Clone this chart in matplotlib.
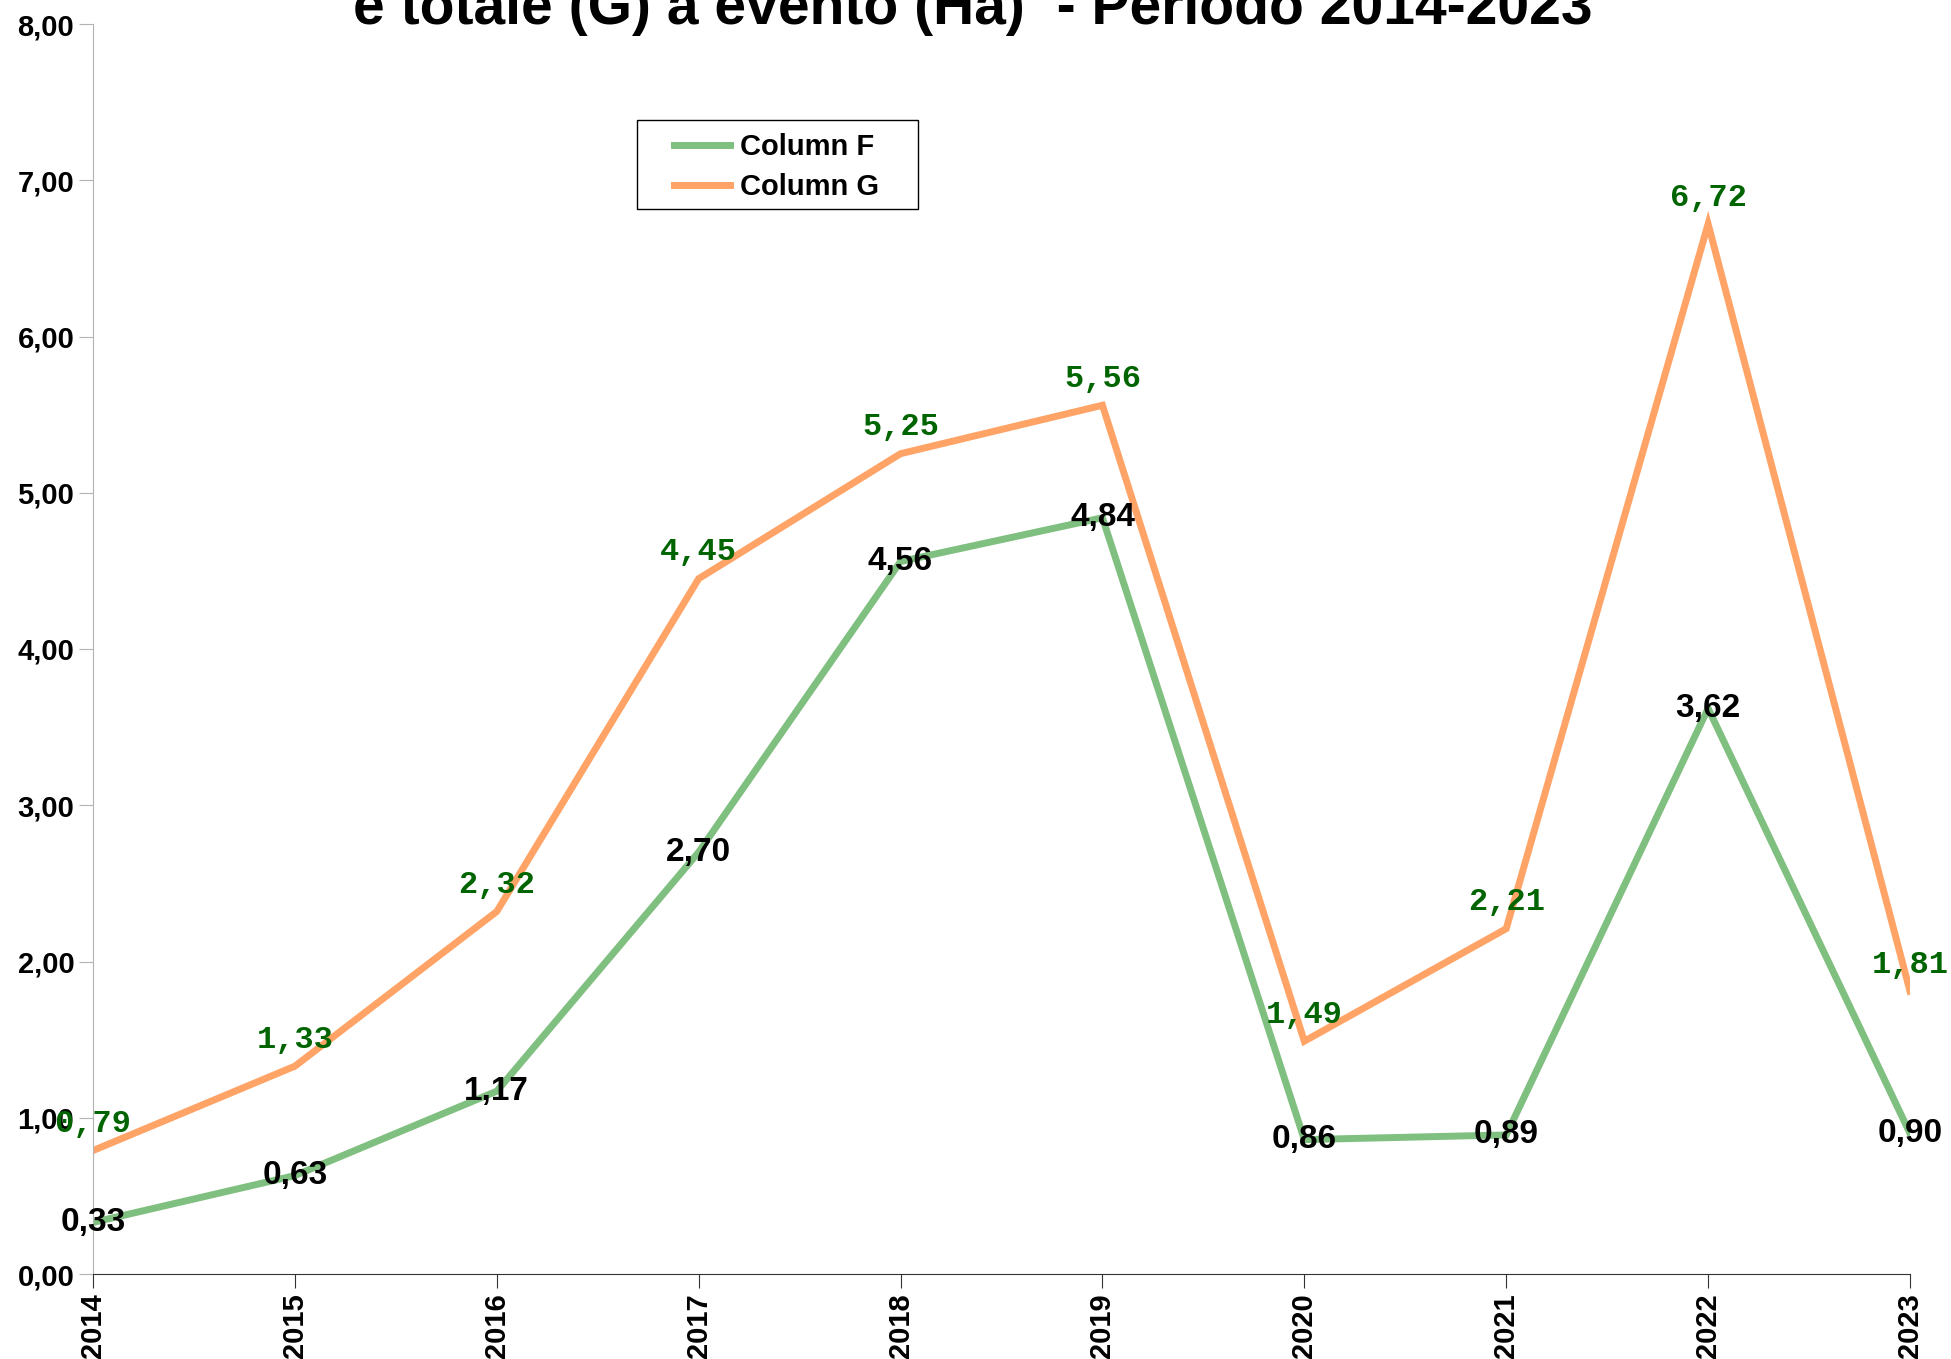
import numpy as np
import matplotlib.pyplot as plt
from matplotlib.patches import Rectangle

years = ['2014', '2015', '2016', '2017', '2018', '2019', '2020', '2021', '2022', '2023']
col_f = [0.33, 0.63, 1.17, 2.70, 4.56, 4.84, 0.86, 0.89, 3.62, 0.90]
col_g = [0.79, 1.33, 2.32, 4.45, 5.25, 5.56, 1.49, 2.21, 6.72, 1.81]
yticks = [0, 1, 2, 3, 4, 5, 6, 7, 8]

plt.rcParams['font.family'] = ['Liberation Sans', 'DejaVu Sans']

fig = plt.figure(figsize=(19.51, 13.59), dpi=100)
ax = fig.add_axes([93/1951, 1-1274/1359, (1910-93)/1951, (1274-24)/1359])

x = np.arange(len(years))
ax.plot(x, col_f, color='#7fbf7f', lw=5, label='Column F', solid_joinstyle='miter')
ax.plot(x, col_g, color='#ffa366', lw=5, label='Column G', solid_joinstyle='miter')

# data labels
for xi, v in zip(x, col_f):
    ax.text(xi, v, ('%.2f' % v).replace('.', ','), ha='center', va='center',
            fontsize=24, fontweight='bold', color='black')
for xi, v in zip(x, col_g):
    ax.annotate(('%.2f' % v).replace('.', ','), (xi, v), xytext=(0, 19),
                textcoords='offset points', ha='center', va='center',
                fontsize=23, fontweight='bold', color='#006400',
                family='Liberation Mono')

ax.set_xlim(0, len(years) - 1)
ax.set_ylim(0, 8)
ax.set_xticks(x)
ax.set_xticklabels(years, rotation=90, fontsize=21, fontweight='bold')
ax.set_yticks(yticks)
ax.set_yticklabels([('%.2f' % t).replace('.', ',') for t in yticks], fontsize=21, fontweight='bold')

ax.tick_params(axis='y', direction='out', length=10, color='#b3b3b3', pad=3.5)
ax.tick_params(axis='x', direction='out', length=10, color='#333333', pad=4)
for s in ['top', 'right']:
    ax.spines[s].set_visible(False)
ax.spines['left'].set_color('#b3b3b3')
ax.spines['bottom'].set_color('#333333')

# legend box drawn separately, entries without frame
ax.add_patch(Rectangle((637/1951, 1-209/1359), (918-637)/1951, (209-120)/1359,
                       transform=fig.transFigure, facecolor='white',
                       edgecolor='black', lw=1, zorder=4, clip_on=False))
leg = ax.legend(loc='upper left', bbox_to_anchor=(654/1951, 1-113/1359),
                bbox_transform=fig.transFigure, frameon=False,
                prop={'size': 21, 'weight': 'bold'}, handlelength=1.9,
                handletextpad=0.35, borderpad=0.2, labelspacing=0.4)
leg.set_zorder(6)

fig.text(973/1951, 1-24/1359, 'e totale (G) a evento (Ha)  - Periodo 2014-2023',
         ha='center', va='baseline', fontsize=41, fontweight='bold')

fig.savefig('out.png', dpi=100)
